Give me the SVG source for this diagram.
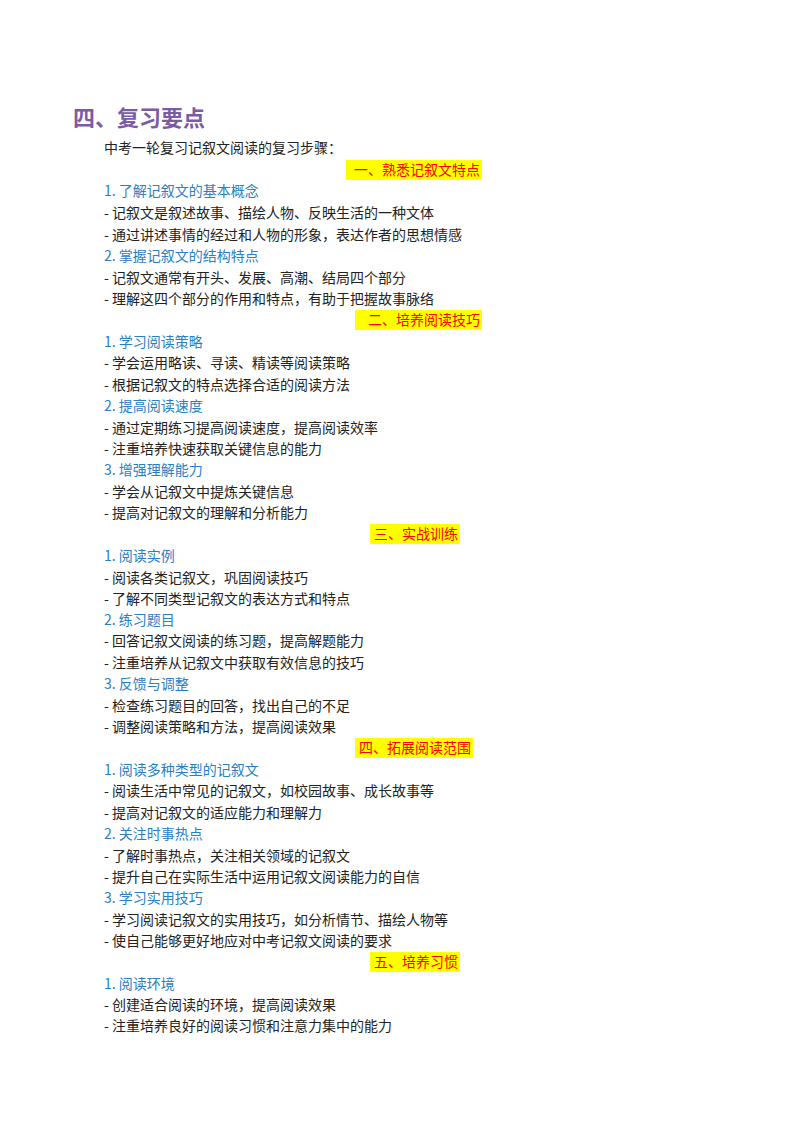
<svg xmlns="http://www.w3.org/2000/svg" width="800" height="1132" viewBox="0 0 800 1132">
<style>
text{font-family:"Noto Sans CJK SC","Noto Sans",sans-serif;font-size:14px;fill:#222}
.h{font-size:22px;font-weight:bold;fill:#7a5ba6}
.b{fill:#2a80c4}
.s{fill:#f00;text-anchor:end}
.y{fill:#ffff00}
</style>
<rect width="800" height="1132" fill="#fff"/>
<text class="h" x="73" y="126">四、复习要点</text>
<text x="104" y="153">中考一轮复习记叙文阅读的复习步骤：</text>
<g id="s1"><rect class="y" x="346" y="160" width="136" height="20"/><text class="s" x="480" y="175">一、熟悉记叙文特点</text></g>
<text class="b" x="104" y="196">1. 了解记叙文的基本概念</text>
<text x="104" y="218">- 记叙文是叙述故事、描绘人物、反映生活的一种文体</text>
<text x="104" y="240">- 通过讲述事情的经过和人物的形象，表达作者的思想情感</text>
<text class="b" x="104" y="261">2. 掌握记叙文的结构特点</text>
<text x="104" y="283">- 记叙文通常有开头、发展、高潮、结局四个部分</text>
<text x="104" y="304">- 理解这四个部分的作用和特点，有助于把握故事脉络</text>
<g id="s2"><rect class="y" x="355" y="310" width="127" height="20"/><text class="s" x="480" y="325">二、培养阅读技巧</text></g>
<text class="b" x="104" y="347">1. 学习阅读策略</text>
<text x="104" y="368">- 学会运用略读、寻读、精读等阅读策略</text>
<text x="104" y="390">- 根据记叙文的特点选择合适的阅读方法</text>
<text class="b" x="104" y="411">2. 提高阅读速度</text>
<text x="104" y="433">- 通过定期练习提高阅读速度，提高阅读效率</text>
<text x="104" y="454">- 注重培养快速获取关键信息的能力</text>
<text class="b" x="104" y="475">3. 增强理解能力</text>
<text x="104" y="497">- 学会从记叙文中提炼关键信息</text>
<text x="104" y="518">- 提高对记叙文的理解和分析能力</text>
<g id="s3"><rect class="y" x="370" y="524" width="90" height="20"/><text class="s" x="458" y="539">三、实战训练</text></g>
<text class="b" x="104" y="561">1. 阅读实例</text>
<text x="104" y="583">- 阅读各类记叙文，巩固阅读技巧</text>
<text x="104" y="604">- 了解不同类型记叙文的表达方式和特点</text>
<text class="b" x="104" y="625">2. 练习题目</text>
<text x="104" y="646">- 回答记叙文阅读的练习题，提高解题能力</text>
<text x="104" y="668">- 注重培养从记叙文中获取有效信息的技巧</text>
<text class="b" x="104" y="689">3. 反馈与调整</text>
<text x="104" y="711">- 检查练习题目的回答，找出自己的不足</text>
<text x="104" y="732">- 调整阅读策略和方法，提高阅读效果</text>
<g id="s4"><rect class="y" x="355" y="738" width="118" height="20"/><text class="s" x="471" y="753">四、拓展阅读范围</text></g>
<text class="b" x="104" y="775">1. 阅读多种类型的记叙文</text>
<text x="104" y="796">- 阅读生活中常见的记叙文，如校园故事、成长故事等</text>
<text x="104" y="818">- 提高对记叙文的适应能力和理解力</text>
<text class="b" x="104" y="839">2. 关注时事热点</text>
<text x="104" y="861">- 了解时事热点，关注相关领域的记叙文</text>
<text x="104" y="882">- 提升自己在实际生活中运用记叙文阅读能力的自信</text>
<text class="b" x="104" y="903">3. 学习实用技巧</text>
<text x="104" y="925">- 学习阅读记叙文的实用技巧，如分析情节、描绘人物等</text>
<text x="104" y="946">- 使自己能够更好地应对中考记叙文阅读的要求</text>
<g id="s5"><rect class="y" x="370" y="952" width="90" height="20"/><text class="s" x="458" y="967">五、培养习惯</text></g>
<text class="b" x="104" y="989">1. 阅读环境</text>
<text x="104" y="1010">- 创建适合阅读的环境，提高阅读效果</text>
<text x="104" y="1031">- 注重培养良好的阅读习惯和注意力集中的能力</text>
</svg>
